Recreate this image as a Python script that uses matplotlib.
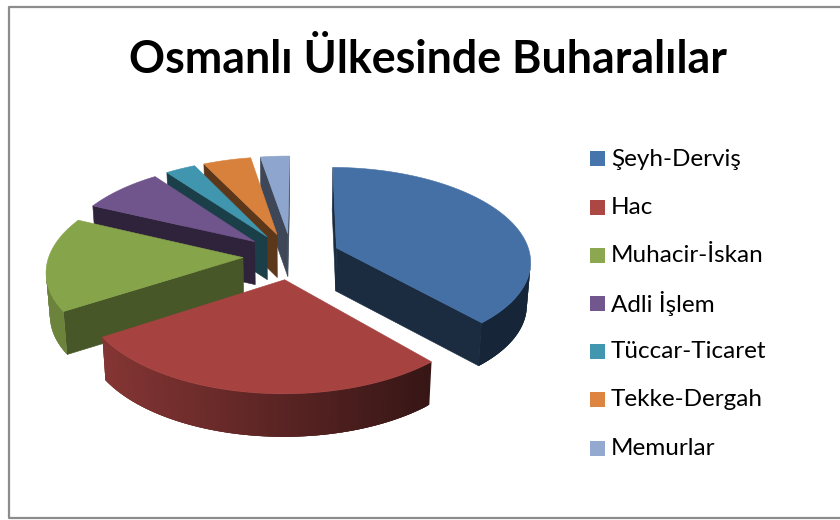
import numpy as np
import matplotlib
matplotlib.use("Agg")
import matplotlib.pyplot as plt
from matplotlib.colors import to_rgb
from matplotlib.patches import Rectangle

# Chart data (percent shares)
categories = ["Şeyh-Derviş", "Hac", "Muhacir-İskan", "Adli İşlem",
              "Tüccar-Ticaret", "Tekke-Dergah", "Memurlar"]
shares = [38.3, 27.5, 16.0, 7.9, 2.9, 4.6, 2.8]
colors = ["#4470A6", "#A64341", "#86A44A", "#70548C", "#4096AE", "#D8813C", "#8EA5CD"]
legend_colors = ["#4674AC", "#AC4744", "#8BA851", "#72578F", "#4197B0", "#DC8440", "#93A9CF"]
wall_shade = [0.39, 0.42, 0.53, 0.42, 0.42, 0.43, 0.43]

title = "Osmanlı Ülkesinde Buharalılar"

# Pie geometry in figure pixels
cx, cy = 291.5, 256
rx, ry = 194, 92.8
persp = 0.128
explode = 0.25
depth = 43
bottom_squeeze = 0.984
first_angle = 0.5


def project(u, v):
    s = 1 / (1 + persp * v)
    return cx + rx * u * s, cy - ry * v * s


def drop(x, y):
    return cx + (x - cx) * bottom_squeeze, y + depth


def shade(color, f):
    return tuple(c * f for c in to_rgb(color))


def rim_shade(x):
    return np.interp(x, [100, 430], [0.80, 0.33])


fig = plt.figure(figsize=(8.4, 5.2), dpi=100)
ax = fig.add_axes([0, 0, 1, 1])
ax.set_xlim(0, 840)
ax.set_ylim(520, 0)
ax.axis("off")

# Border, open on the right side like the reference crop
ax.plot([840, 8.5, 8.5, 840], [6.5, 6.5, 517.5, 517.5], color="#8c8c8c", lw=1.6, zorder=1)

ends = np.cumsum(shares) / np.sum(shares) * 360 + first_angle
starts = ends - np.array(shares) / np.sum(shares) * 360
mids = (starts + ends) / 2

z = 2
# back to front
order = np.argsort(-np.cos(np.radians(mids)))
for i in order:
    color = colors[i]
    ou = explode * np.sin(np.radians(mids[i]))
    ov = explode * np.cos(np.radians(mids[i]))
    t = np.radians(np.linspace(starts[i], ends[i], 160))
    rim = [project(ou + np.sin(a), ov + np.cos(a)) for a in t]
    apex = project(ou, ov)

    # radial walls, only the ones facing the viewer
    for p, q in [(apex, rim[0]), (rim[-1], apex)]:
        if q[0] < p[0]:
            pts = [p, q, drop(*q), drop(*p)]
            ax.fill(*zip(*pts), color=shade(color, wall_shade[i]), lw=0.4, zorder=z)
            z += 1

    # outer wall: overlapping strips so no seams show
    front = [j for j in range(len(rim) - 1) if rim[j + 1][0] < rim[j][0]]
    for j in front:
        k = min(j + 3, len(rim) - 1)
        segment = rim[j:k + 1]
        pts = segment + [drop(*p) for p in segment[::-1]]
        ax.fill(*zip(*pts), color=shade(color, rim_shade(rim[j][0])), lw=0, zorder=z)
        z += 1

    ax.fill(*zip(*([apex] + rim)), color=color, lw=0.4, zorder=z)
    z += 1

ax.text(428, 60, title, fontsize=32.2, fontweight="bold", family="Lato",
        ha="center", va="center", color="black")

# Legend
legend_y = [158.5, 207, 255, 303, 351, 399.5, 448]
for name, c, y in zip(categories, legend_colors, legend_y):
    ax.add_patch(Rectangle((590, y - 7.5), 15, 15, color=c, lw=0))
    ax.text(611, y + 0.5, name, fontsize=17.5, family="Lato", ha="left", va="center", color="black")

fig.savefig("out.png", dpi=100)
